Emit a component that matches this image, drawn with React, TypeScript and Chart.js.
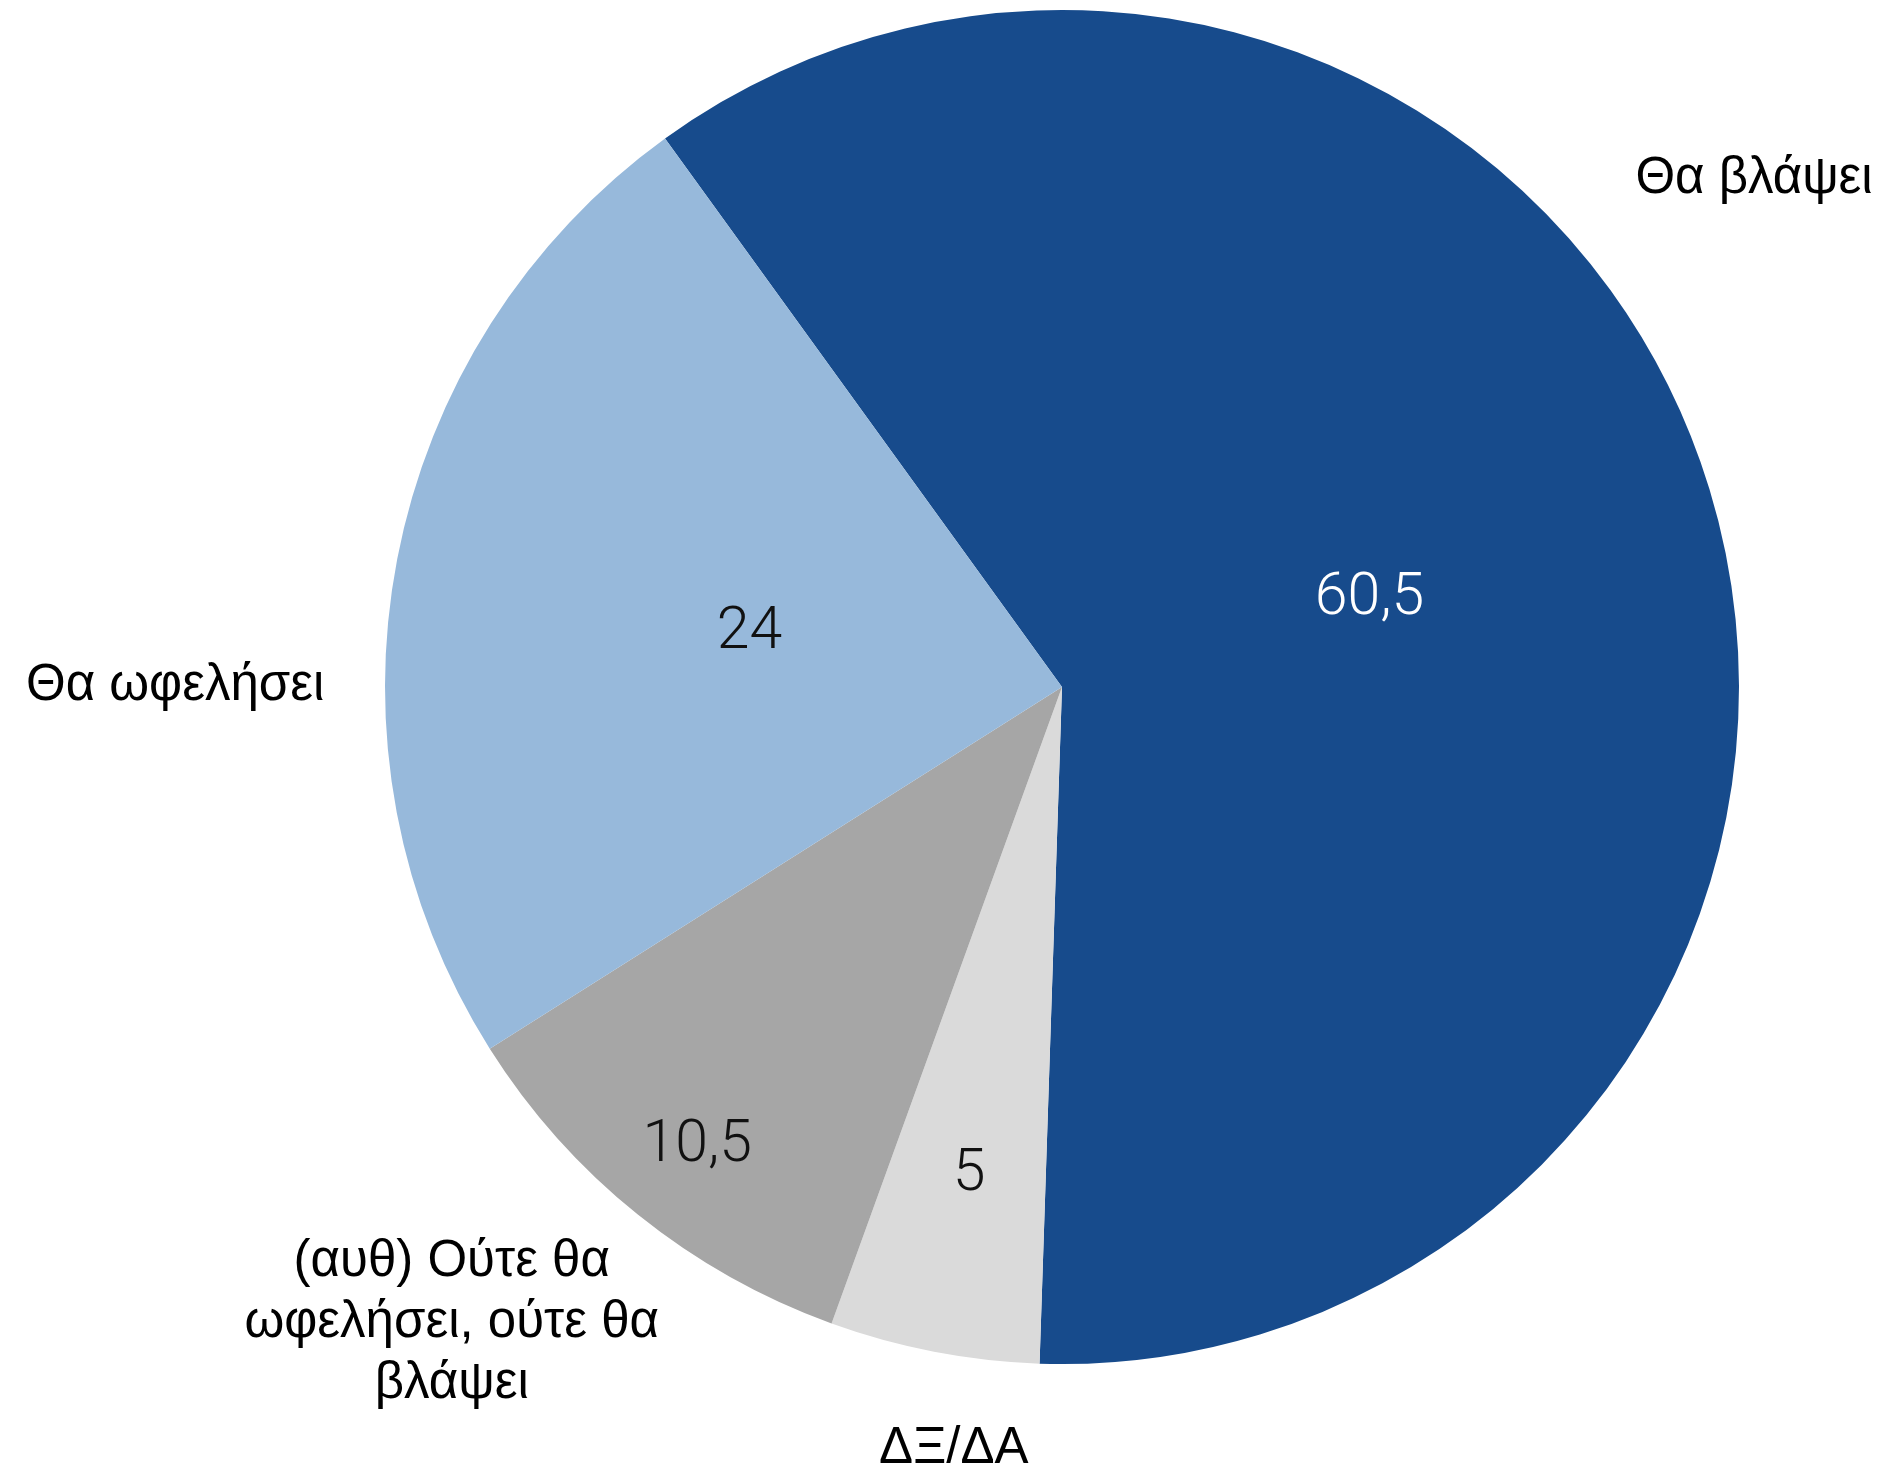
import React, { useEffect, useRef } from "react";
import { Chart, registerables } from "chart.js";

Chart.register(...registerables);

const categories = [
  "Θα βλάψει",
  "ΔΞ/ΔΑ",
  "(αυθ) Ούτε θα ωφελήσει, ούτε θα βλάψει",
  "Θα ωφελήσει",
];
const values = [60.5, 5, 10.5, 24];
const valueLabels = ["60,5", "5", "10,5", "24"];
const categoryLines = [
  ["Θα βλάψει"],
  ["ΔΞ/ΔΑ"],
  ["(αυθ) Ούτε θα", "ωφελήσει, ούτε θα", "βλάψει"],
  ["Θα ωφελήσει"],
];
const colors = ["#174B8C", "#DADADA", "#A6A6A6", "#97B9DB"];
const valueColors = ["#FFFFFF", "#111111", "#111111", "#111111"];

// label placement: value labels along slice mid-angle (fraction of radius),
// category labels at polar positions (deg clockwise from top, fraction of radius)
const valueRadial = [0.475, 0.725, 0.86, 0.47];
const catPolar: [number, number][] = [
  [53.6, 1.27],
  [188.1, 1.134],
  [223.9, 1.3],
  [270.2, 1.31],
];

const labelPlugin = {
  id: "pieLabels",
  afterDatasetsDraw(chart: any) {
    const ctx = chart.ctx;
    const meta = chart.getDatasetMeta(0);
    ctx.save();
    ctx.textAlign = "center";
    ctx.textBaseline = "middle";
    meta.data.forEach((arc: any, i: number) => {
      const { x, y, startAngle, endAngle, outerRadius } = arc.getProps(
        ["x", "y", "startAngle", "endAngle", "outerRadius"],
        true
      );
      const mid = (startAngle + endAngle) / 2;
      const r = outerRadius * valueRadial[i];
      ctx.font = "300 59px Roboto, 'Liberation Sans', sans-serif";
      ctx.fillStyle = valueColors[i];
      ctx.fillText(valueLabels[i], x + Math.cos(mid) * r, y + Math.sin(mid) * r + 6);

      const [deg, f] = catPolar[i];
      const a = ((deg - 90) * Math.PI) / 180;
      const cx = x + Math.cos(a) * outerRadius * f;
      const cy = y + Math.sin(a) * outerRadius * f;
      ctx.font = "51px 'Liberation Sans', Arial, sans-serif";
      ctx.fillStyle = "#000000";
      const lines = categoryLines[i];
      const lh = 61;
      lines.forEach((ln, k) => {
        ctx.fillText(ln, cx, cy + 2 + (k - (lines.length - 1) / 2) * lh);
      });
    });
    ctx.restore();
  },
};

export default function App() {
  const ref = useRef<HTMLCanvasElement>(null);
  useEffect(() => {
    document.body.style.margin = "0";
    const chart = new Chart(ref.current!, {
      type: "pie",
      data: {
        labels: categories,
        datasets: [
          {
            data: values,
            backgroundColor: colors,
            borderWidth: 0,
          },
        ],
      },
      options: {
        responsive: false,
        animation: false,
        rotation: -35.9,
        layout: { padding: { left: 385, right: 145, top: 10, bottom: 107 } },
        plugins: {
          legend: { display: false },
          tooltip: { enabled: false },
        },
      },
      plugins: [labelPlugin],
    });
    return () => chart.destroy();
  }, []);
  return (
    <div style={{ width: 1884, height: 1471, background: "#fff" }}>
      <canvas ref={ref} width={1884} height={1471} />
    </div>
  );
}
